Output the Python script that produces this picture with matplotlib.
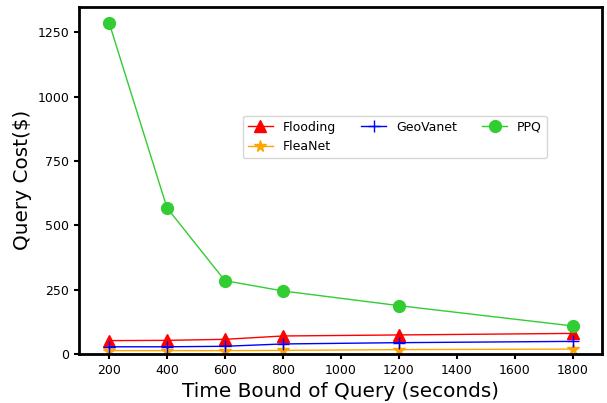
import matplotlib
matplotlib.use('Agg')
import matplotlib.pyplot as plt

time_bound = [200, 400, 600, 800, 1200, 1800]
flooding = [52, 53, 57, 70, 74, 80]
fleanet = [13, 13, 13, 14, 17, 19]
geovanet = [28, 28, 30, 39, 44, 49]
ppq = [1288, 568, 285, 245, 188, 109]

fig = plt.figure(figsize=(6.07, 4.03), dpi=100)
ax = fig.add_axes([0.130, 0.1216, 0.862, 0.862])

ax.plot(time_bound, flooding, color='red', marker='^', markersize=8.5, linewidth=1, label='Flooding')
ax.plot(time_bound, fleanet, color='orange', marker='*', markersize=8.5, linewidth=1, label='FleaNet')
ax.plot(time_bound, geovanet, color='blue', marker='+', markersize=9, linewidth=1, label='GeoVanet')
ax.plot(time_bound, ppq, color='limegreen', marker='o', markersize=8.5, linewidth=1, label='PPQ')

ax.set_xlim(96, 1902)
ax.set_ylim(0, 1350)
ax.set_xticks([200, 400, 600, 800, 1000, 1200, 1400, 1600, 1800])
ax.set_yticks([0, 250, 500, 750, 1000, 1250])
ax.tick_params(labelsize=9, width=1.5)
for s in ax.spines.values():
    s.set_linewidth(2)

ax.set_xlabel('Time Bound of Query (seconds)', fontsize=14.4)
ax.set_ylabel('Query Cost($)', fontsize=14.4)

ax.legend(ncol=3, loc='center', bbox_to_anchor=(0.604, 0.625), fontsize=9)

fig.savefig('out.png', dpi=100)
